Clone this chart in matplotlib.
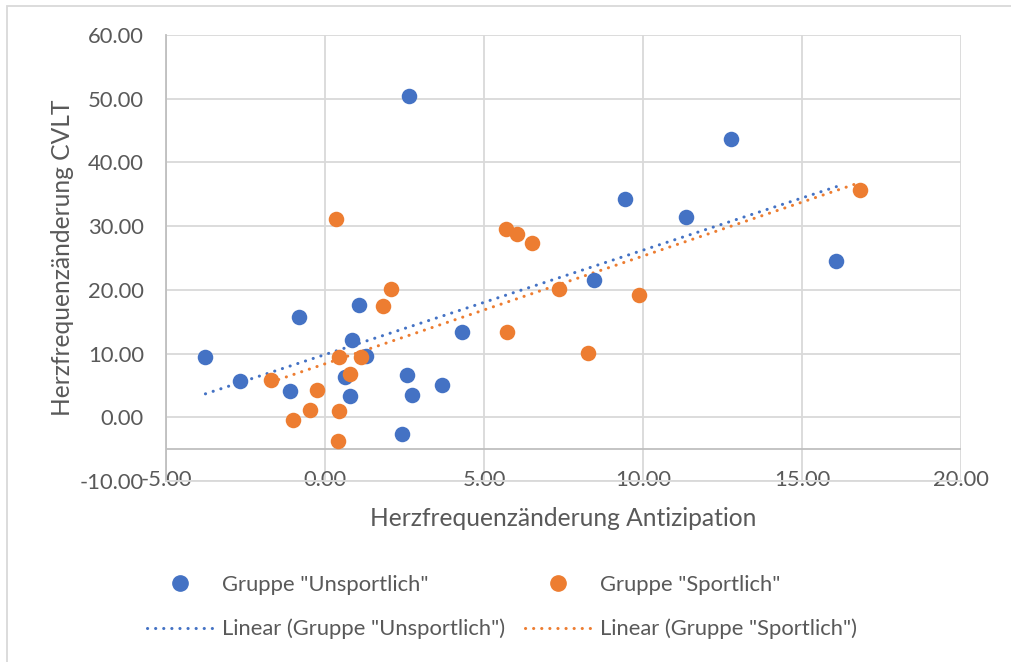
import numpy as np
import matplotlib
matplotlib.use("Agg")
import matplotlib.pyplot as plt
from matplotlib.lines import Line2D
from matplotlib.patches import Rectangle

# Daten
unsportlich_x = [-3.76, -2.68, -1.10, -0.81, 1.07, 0.84, 1.28, 0.64, 0.79, 2.57,
                 2.73, 3.67, 2.43, 4.32, 2.65, 8.46, 9.44, 11.34, 12.78, 16.08]
unsportlich_y = [9.5, 5.7, 4.2, 15.8, 17.6, 12.2, 9.6, 6.4, 3.3, 6.6,
                 3.45, 5.1, -2.6, 13.4, 50.4, 21.6, 34.3, 31.4, 43.6, 24.5]

sportlich_x = [-1.70, -1.01, -0.47, -0.26, 0.35, 0.43, 0.43, 0.41, 0.80, 1.14,
               1.83, 2.08, 5.69, 6.05, 6.50, 5.73, 7.36, 8.28, 9.86, 16.83]
sportlich_y = [5.8, -0.4, 1.2, 4.35, 31.1, 9.5, 0.94, -3.7, 6.8, 9.5,
               17.5, 20.1, 29.6, 28.7, 27.4, 13.4, 20.2, 10.05, 19.15, 35.6]

x_ticks = [-5, 0, 5, 10, 15, 20]
y_ticks = [-10, 0, 10, 20, 30, 40, 50, 60]

blau = "#4472C4"
orange = "#ED7D31"
text_farbe = "#595959"
gitter = "#D9D9D9"
achse = "#BFBFBF"

plt.rcParams['font.family'] = ['Lato', 'DejaVu Sans']
fs = 15.8

fig = plt.figure(figsize=(10.11, 6.62), dpi=100)
ax = fig.add_axes([166 / 1011, 1 - 481 / 662, 795 / 1011, 446 / 662])

# Punkte
ax.scatter(unsportlich_x, unsportlich_y, s=125, color=blau, zorder=3, linewidths=0)
ax.scatter(sportlich_x, sportlich_y, s=125, color=orange, zorder=3, linewidths=0)

# Lineare Trendlinien
dot = (0, (0.05, 2.6))
for xs, ys, c in [(unsportlich_x, unsportlich_y, blau), (sportlich_x, sportlich_y, orange)]:
    m, b = np.polyfit(xs, ys, 1)
    xl = np.array([min(xs), max(xs)])
    ax.plot(xl, m * xl + b, color=c, lw=2.2, linestyle=dot, dash_capstyle='round', zorder=2)

ax.set_xlim(-5, 20)
ax.set_ylim(-10, 60)
ax.set_xticks(x_ticks)
ax.set_yticks(y_ticks)
ax.set_xticklabels([f"{v:.2f}" for v in x_ticks])
ax.set_yticklabels([f"{v:.2f}" for v in y_ticks])
ax.grid(True, color=gitter, lw=1.3, zorder=0)
ax.set_axisbelow(True)
ax.axhline(-5, color=achse, lw=1.3, zorder=1)

for s in ['top', 'right']:
    ax.spines[s].set_visible(False)
ax.spines['bottom'].set_color(gitter)
ax.spines['bottom'].set_linewidth(1.3)
ax.spines['left'].set_color(achse)
ax.spines['left'].set_linewidth(1.3)

ax.tick_params(axis='y', length=0, pad=16, labelsize=fs, labelcolor=text_farbe)
ax.tick_params(axis='x', length=0, pad=-8, labelsize=fs, labelcolor=text_farbe)

ax.set_xlabel("Herzfrequenzänderung Antizipation", fontsize=17.7, color=text_farbe, labelpad=12)
ax.set_ylabel("Herzfrequenzänderung CVLT", fontsize=17.7, color=text_farbe, labelpad=4)

# Legende
handles = [
    Line2D([], [], marker='o', ls='none', color=blau, markersize=11),
    Line2D([], [], color=blau, lw=2.2, linestyle=dot, dash_capstyle='round'),
    Line2D([], [], marker='o', ls='none', color=orange, markersize=11),
    Line2D([], [], color=orange, lw=2.2, linestyle=dot, dash_capstyle='round'),
]
labels = ['Gruppe "Unsportlich"', 'Linear (Gruppe "Unsportlich")',
          'Gruppe "Sportlich"', 'Linear (Gruppe "Sportlich")']
fig.legend(handles, labels, ncol=2, frameon=False, loc='center',
           bbox_to_anchor=(502 / 1011, 1 - 607 / 662), fontsize=fs,
           labelcolor=text_farbe, handlelength=3.0, handletextpad=0.4,
           columnspacing=0.9, labelspacing=1.1)

# Rahmen
fig.patches.append(Rectangle((7 / 1011, -0.1), 1.2, 1 - 6 / 662 + 0.1,
                             transform=fig.transFigure, fill=False,
                             edgecolor=gitter, lw=1.3))

fig.savefig("out.png", dpi=100)
